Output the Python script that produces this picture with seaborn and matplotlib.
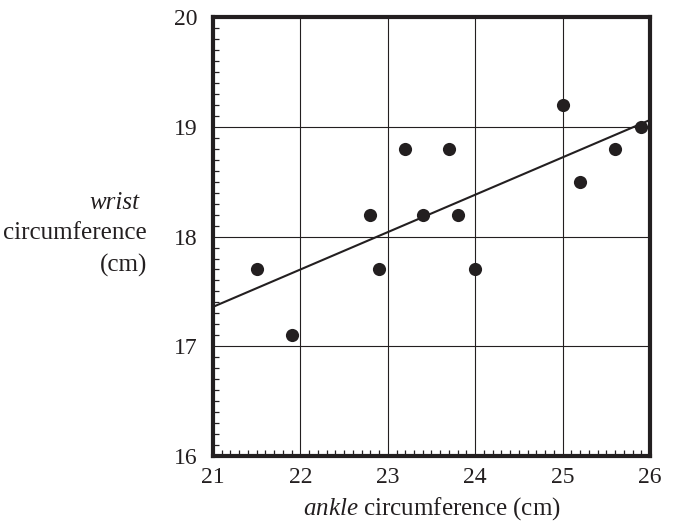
import numpy as np
import pandas as pd
import seaborn as sns
import matplotlib.pyplot as plt
from matplotlib.ticker import MultipleLocator

ankle = [21.5, 21.9, 22.8, 22.9, 23.2, 23.4, 23.7, 23.8, 24.0, 25.0, 25.2, 25.6, 25.9]
wrist = [17.7, 17.1, 18.2, 17.7, 18.8, 18.2, 18.8, 18.2, 17.7, 19.2, 18.5, 18.8, 19.0]
df = pd.DataFrame({"ankle": ankle, "wrist": wrist})

sns.set_style("white")
plt.rcParams["font.family"] = ["Liberation Serif", "DejaVu Serif"]
plt.rcParams["mathtext.fontset"] = "custom"
plt.rcParams["mathtext.rm"] = "Liberation Serif"
plt.rcParams["mathtext.it"] = "Liberation Serif:italic"

ink = "#231f20"
fig = plt.figure(figsize=(6.73, 5.25), dpi=100)
ax = fig.add_axes([0.3165, 0.1314, 0.6493, 0.836])
# limits first so the fitted line runs across the whole frame
ax.set_xlim(21, 26)
ax.set_ylim(16, 20)

sns.regplot(data=df, x="ankle", y="wrist", ax=ax, ci=None, truncate=False,
            scatter_kws={"s": 90, "color": ink, "alpha": 1, "zorder": 3, "linewidths": 0},
            line_kws={"color": ink, "lw": 1.5})

ax.set_xlim(21, 26)
ax.set_ylim(16, 20)
ax.xaxis.set_major_locator(MultipleLocator(1))
ax.yaxis.set_major_locator(MultipleLocator(1))
ax.xaxis.set_minor_locator(MultipleLocator(0.1))
ax.yaxis.set_minor_locator(MultipleLocator(0.1))
ax.grid(True, which="major", color=ink, lw=0.8)
ax.tick_params(which="both", direction="in", bottom=True, left=True, top=False, right=False,
               color=ink)
ax.tick_params(which="major", length=0, labelsize=17, labelcolor=ink)
ax.tick_params(axis="x", which="major", pad=8)
ax.tick_params(axis="y", which="major", pad=11)
ax.tick_params(which="minor", length=4, width=0.9)
for s in ax.spines.values():
    s.set_linewidth(3)
    s.set_color(ink)
    s.set_visible(True)

ax.set_xlabel(r"$\mathit{ankle}$ circumference (cm)", fontsize=18, labelpad=5, color=ink)
ax.set_ylabel("")
ax.text(-0.167, 0.576, "wrist", style="italic", fontsize=18, ha="right", va="center",
        transform=ax.transAxes, color=ink)
ax.text(-0.151, 0.508, "circumference", fontsize=18, ha="right", va="center",
        transform=ax.transAxes, color=ink)
ax.text(-0.151, 0.435, "(cm)", fontsize=18, ha="right", va="center",
        transform=ax.transAxes, color=ink)

fig.savefig("out.png", dpi=100)
